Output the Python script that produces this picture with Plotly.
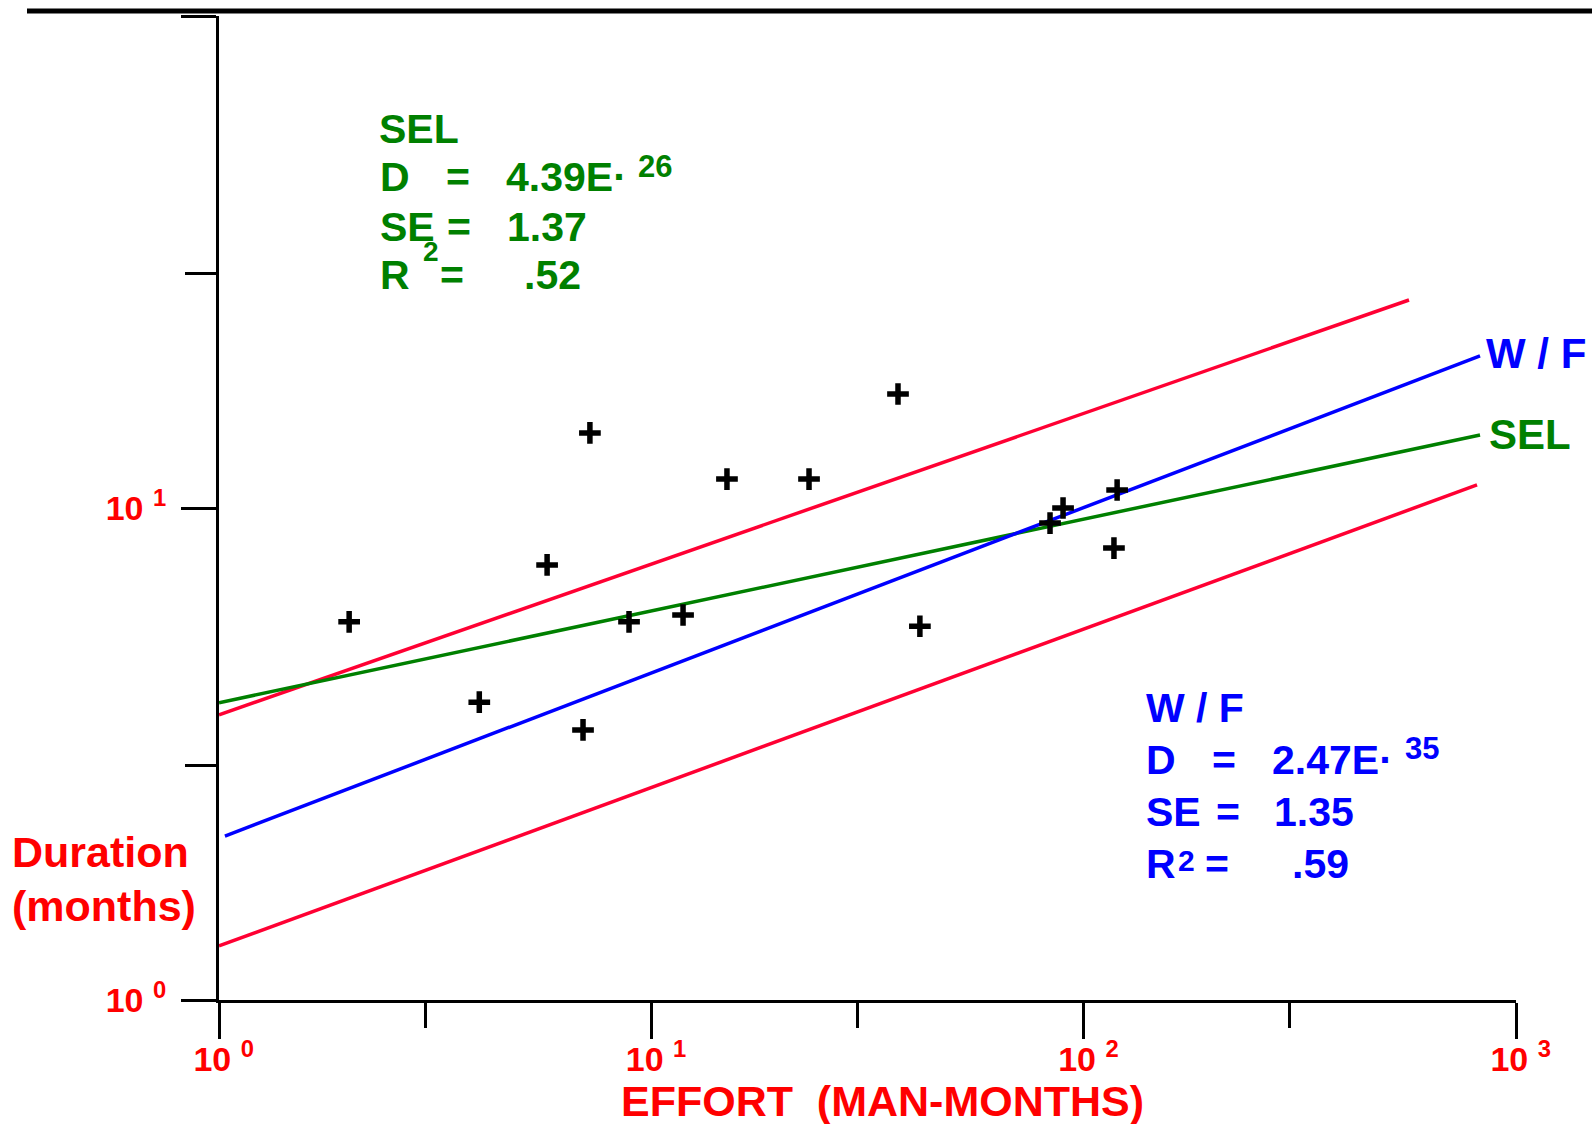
import plotly.graph_objects as go

# Project effort vs. duration, log-log
effort = [2.0, 4.0, 5.74, 6.95, 7.21, 8.88, 11.84, 14.96, 23.16, 37.2, 41.8, 83.6, 89.6, 117.5, 119.5]
duration = [5.87, 4.03, 7.66, 3.54, 14.21, 5.87, 6.06, 11.45, 11.45, 17.05, 5.75, 9.32, 10.0, 8.29, 10.88]

# Fitted lines (end points)
sel_e = [1.0, 825.6]
sel_d = [4.02, 14.07]
wf_e = [1.032, 825.6]
wf_d = [2.154, 20.37]
band_hi_e = [1.0, 565.6]
band_hi_d = [3.80, 26.47]
band_lo_e = [1.0, 812.5]
band_lo_d = [1.288, 11.14]

x_tickvals = [1, 10, 100, 1000]
x_ticktext = ["\u00a010 <sup>0</sup>", "\u00a010 <sup>1</sup>",
              "\u00a010 <sup>2</sup>", "\u00a010 <sup>3</sup>"]
y_tickvals = [1, 10, 100]
y_ticktext = ["10 <sup>0</sup>", "10 <sup>1</sup>", "10 <sup>2</sup>"]

RED = "#FF0000"
LINE_RED = "#FF0033"
GREEN = "#008000"
BLUE = "#0000FF"
FONT = "Liberation Sans, Arial, sans-serif"

W, H = 1592, 1124
L, R, T, B = 219, 76, 16, 124
PW, PH = W - L - R, H - T - B


def px(x):
    return (x - L) / PW


def py(y):
    return (H - B - y) / PH


def label(text, left, baseline, size, color):
    return dict(
        text=text, xref="paper", yref="paper",
        x=px(left - 3), y=py(baseline + 0.21 * size + 1),
        xanchor="left", yanchor="bottom", showarrow=False,
        font=dict(family=FONT, size=size, color=color, weight="bold"),
    )


fig = go.Figure()

for xs, ys, col in [
    (band_hi_e, band_hi_d, LINE_RED),
    (band_lo_e, band_lo_d, LINE_RED),
    (sel_e, sel_d, GREEN),
    (wf_e, wf_d, BLUE),
]:
    fig.add_trace(go.Scatter(x=xs, y=ys, mode="lines",
                             line=dict(color=col, width=3.5), hoverinfo="skip"))

fig.add_trace(go.Scatter(
    x=effort, y=duration, mode="markers",
    marker=dict(symbol="cross-thin", size=15.5, color="black",
                line=dict(width=5.5, color="black")),
))

annotations = [
    # SEL fit block
    label("SEL", 380, 144, 41, GREEN),
    label("D", 381, 192, 41, GREEN),
    label("=", 447, 192, 41, GREEN),
    label("4.39E·", 507, 192, 41, GREEN),
    label("26", 639, 178, 31, GREEN),
    label("SE", 381, 242, 41, GREEN),
    label("=", 448, 242, 41, GREEN),
    label("1.37", 508, 242, 41, GREEN),
    label("2", 424, 262, 28, GREEN),
    label("R", 381, 290, 41, GREEN),
    label("=", 441, 290, 41, GREEN),
    label(".52", 525, 290, 41, GREEN),
    # W/F fit block
    label("W / F", 1147, 723, 41, BLUE),
    label("D", 1147, 775, 41, BLUE),
    label("=", 1213, 775, 41, BLUE),
    label("2.47E·", 1273, 775, 41, BLUE),
    label("35", 1406, 760, 31, BLUE),
    label("SE", 1147, 827, 41, BLUE),
    label("=", 1217, 827, 41, BLUE),
    label("1.35", 1275, 827, 41, BLUE),
    label("R", 1147, 879, 41, BLUE),
    label("2", 1179, 872, 30, BLUE),
    label("=", 1206, 879, 41, BLUE),
    label(".59", 1293, 879, 41, BLUE),
    # line end labels
    label("W / F", 1487, 369, 42, BLUE),
    label("SEL", 1490, 450, 42, GREEN),
    # axis titles
    label("Duration", 13, 868, 43, RED),
    label("(months)", 13, 922, 43, RED),
    label("EFFORT \u00a0(MAN-MONTHS)", 622, 1117, 43, RED),
]

tick_font = dict(family=FONT, size=34, color=RED, weight="bold")

fig.update_layout(
    width=W, height=H,
    margin=dict(l=L, r=R, t=T, b=B, pad=0),
    paper_bgcolor="white", plot_bgcolor="white",
    showlegend=False,
    annotations=annotations,
    shapes=[dict(type="line", xref="paper", yref="paper",
                 x0=px(27), x1=px(1592), y0=py(11), y1=py(11),
                 line=dict(color="black", width=5))],
    xaxis=dict(
        type="log", range=[0, 3],
        tickmode="array", tickvals=x_tickvals, ticktext=x_ticktext,
        ticks="outside", ticklen=36, tickwidth=2.5, tickcolor="black",
        showline=True, linewidth=3, linecolor="black",
        showgrid=False, zeroline=False, tickfont=tick_font,
        ticklabelstandoff=-9,
        minor=dict(tickmode="array", tickvals=[3, 30, 300], ticks="outside",
                   ticklen=25, tickwidth=2.5, tickcolor="black", showgrid=False),
    ),
    yaxis=dict(
        type="log", range=[0, 2],
        tickmode="array", tickvals=y_tickvals, ticktext=y_ticktext,
        ticks="outside", ticklen=35, tickwidth=3, tickcolor="black",
        showline=True, linewidth=3, linecolor="black",
        showgrid=False, zeroline=False, tickfont=tick_font,
        ticklabelstandoff=8,
        minor=dict(tickmode="array", tickvals=[3, 30], ticks="outside",
                   ticklen=31, tickwidth=3, tickcolor="black", showgrid=False),
    ),
)

fig.write_html("out.html")
